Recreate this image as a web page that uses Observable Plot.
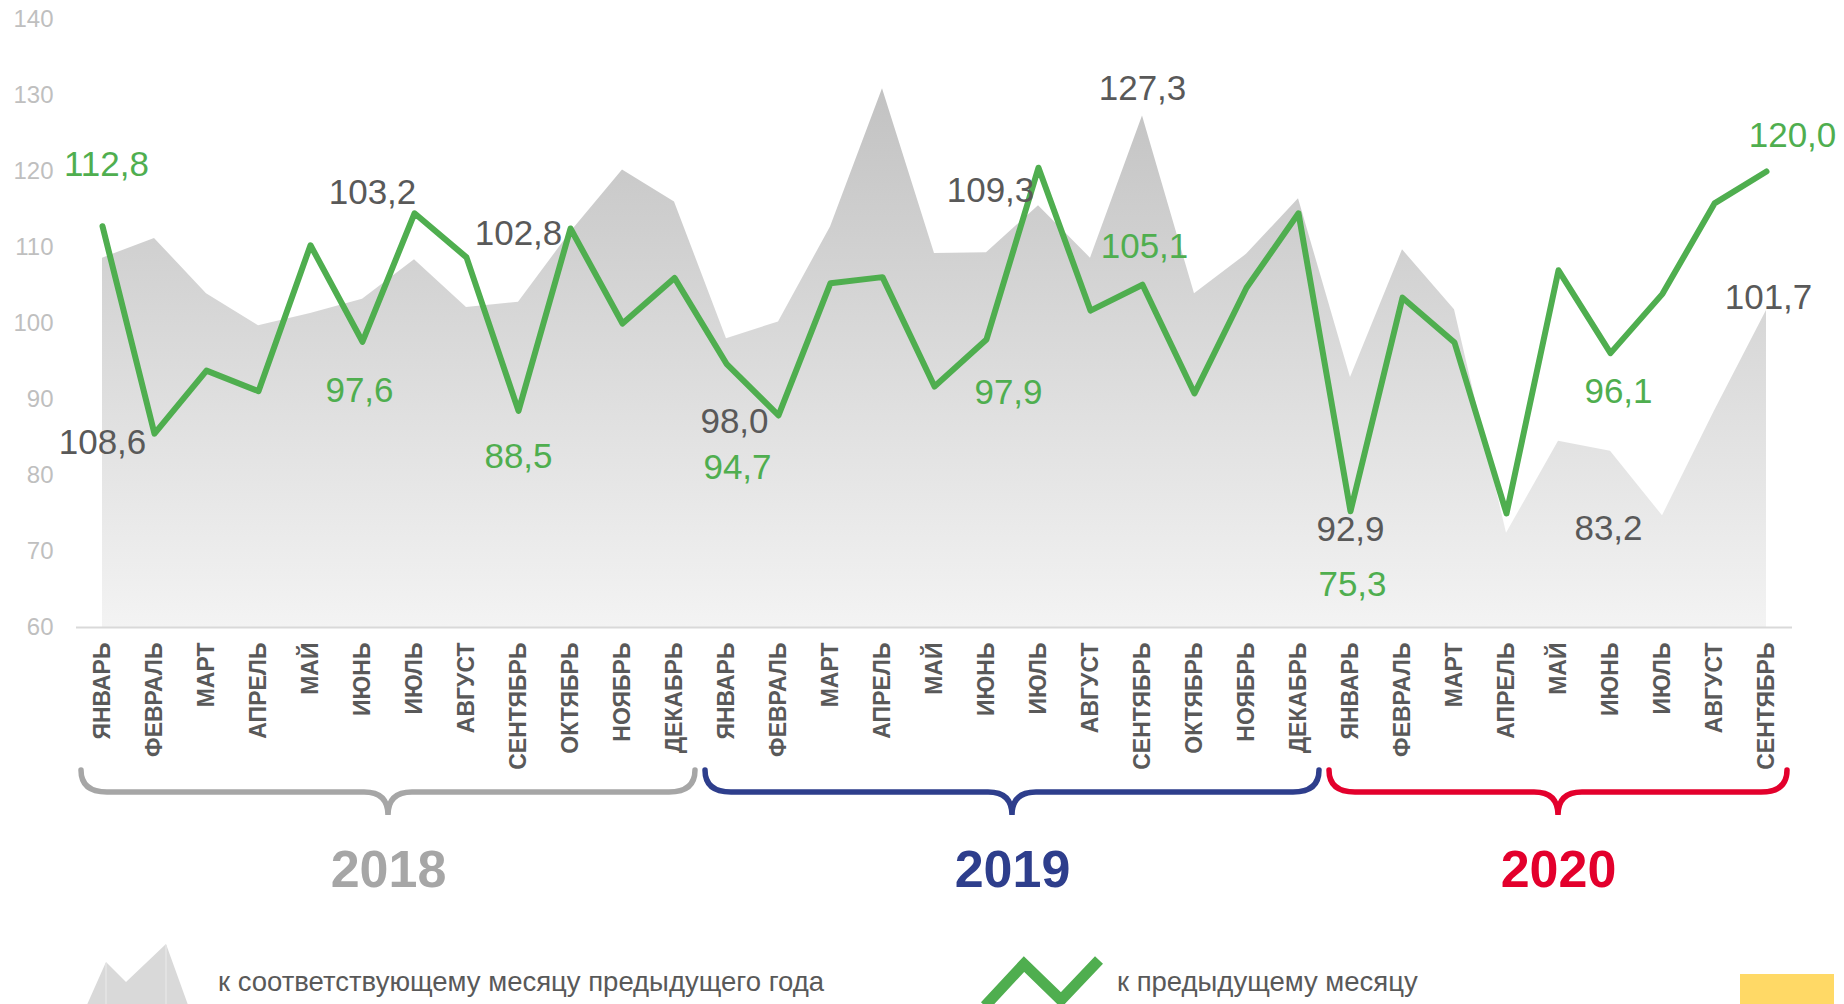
<!DOCTYPE html>
<html><head><meta charset="utf-8">
<script src="https://cdn.jsdelivr.net/npm/d3@7"></script>
<script src="https://cdn.jsdelivr.net/npm/@observablehq/plot@0.6"></script>
<style>
html,body{margin:0;padding:0;background:#fff;overflow:hidden;width:1844px;height:1004px;}
#chart svg{display:block}
#legend{position:relative;width:1844px;height:68px;overflow:hidden;font-family:"Liberation Sans",Arial,sans-serif;color:#595959;font-size:27.5px;}
#legend .t{position:absolute;white-space:nowrap;line-height:1;}
#legend svg{position:absolute;left:0;top:0;}
#pagebox{position:absolute;left:1740px;top:38px;width:94px;height:40px;background:#ffd966;}
</style></head><body>
<div id="chart"></div>
<div id="legend">
  <svg width="1844" height="68">
    <polygon points="82,80 106,26 126,46 166,8 192,80" fill="#d9d9d9"/>
    <line x1="106" y1="27" x2="106" y2="80" stroke="#e4e4e4" stroke-width="1.5"/>
    <line x1="166" y1="9" x2="166" y2="80" stroke="#e4e4e4" stroke-width="1.5"/>
    <polyline points="985,70 1024,28 1061,64 1099,24" fill="none" stroke="#4fae4f" stroke-width="11" stroke-linejoin="miter"/>
  </svg>
  <div class="t" style="left:218px;top:32px;">к соответствующему месяцу предыдущего года</div>
  <div class="t" style="left:1117px;top:32px;">к предыдущему месяцу</div>
  <div id="pagebox"></div>
</div>
<script>
// ---- data ----
const months = ["ЯНВАРЬ","ФЕВРАЛЬ","МАРТ","АПРЕЛЬ","МАЙ","ИЮНЬ","ИЮЛЬ","АВГУСТ","СЕНТЯБРЬ","ОКТЯБРЬ","НОЯБРЬ","ДЕКАБРЬ"];
const periods = [...months, ...months, ...months.slice(0, 9)];
// к соответствующему месяцу предыдущего года
const yoy = [108.6,111.2,103.9,99.7,101.3,103.2,108.4,102.1,102.8,112.0,120.2,116.0,
             98.0,100.2,112.7,130.9,109.2,109.3,115.5,108.6,127.3,103.9,109.1,116.4,
             92.9,109.7,101.8,72.4,84.5,83.2,74.7,88.5,101.7];
// к предыдущему месяцу
const mom = [112.8,85.5,93.8,91.1,110.3,97.6,114.5,108.7,88.5,112.5,100.0,106.0,
             94.7,87.9,105.3,106.1,91.7,97.9,120.5,101.7,105.1,90.8,104.7,114.5,
             75.3,103.4,97.5,75.0,107.0,96.1,103.9,115.8,120.0];
const yearNames = ["2018","2019","2020"];
const yearFirst = [0, 12, 24];
const yearLast = [11, 23, 32];
const yTicks = [60,70,80,90,100,110,120,130,140];
const labelledYoy = [0,5,8,12,17,20,24,29,32];
const labelledMom = [0,5,8,12,17,20,24,29,32];

// ---- styles / layout ----
const yearColors = ["#a6a6a6","#2e3e8c","#e3002c"];
const green = "#4fae4f";
const darkText = "#595959";
// pixel offsets of each value label from its point [dx, dy]
const yoyLabelOffset = [[0,185],[10,-106],[0,-68],[8,83],[4,-62],[0,-27],[0,152],[-2,78],[2,-13]];
const momLabelOffset = [[4,-61],[-3,49],[0,46],[11,104],[22,53],[2,-38],[2,74],[8,39],[26,-36]];

const rows = periods.map((m, i) => ({i, month: m, yoy: yoy[i], mom: mom[i]}));
const years = yearNames.map((y, k) => ({year: y, from: yearFirst[k], to: yearLast[k], mid: (yearFirst[k] + yearLast[k]) / 2, color: yearColors[k]}));
const fmt = v => v.toFixed(1).replace(".", ",");

const H = 936;
const FONT = "'Liberation Sans', Arial, Helvetica, sans-serif";

function gradientDefs(index, scales) {
  const defs = d3.create("svg:defs");
  const g = defs.append("linearGradient").attr("id", "areaGrad")
    .attr("gradientUnits", "userSpaceOnUse")
    .attr("x1", 0).attr("x2", 0)
    .attr("y1", scales.y(140)).attr("y2", scales.y(60));
  g.append("stop").attr("offset", "0%").attr("stop-color", "#bcbcbc");
  g.append("stop").attr("offset", "100%").attr("stop-color", "#f3f3f3");
  return defs.node();
}

function braces(index, scales) {
  const g = d3.create("svg:g").attr("fill", "none").attr("stroke-width", 5.5).attr("stroke-linecap", "round");
  const base = scales.y(60);
  const top = base + 143, mid = base + 165, tip = base + 188;
  const rx = 26, rt = 24;
  years.forEach(yr => {
    const x0 = scales.x(yr.from - 0.5) + 5;
    const x1 = scales.x(yr.to + 0.5) - 5;
    const xm = scales.x(yr.mid);
    const d = `M${x0},${top} Q${x0},${mid} ${x0 + rx},${mid} L${xm - rt},${mid} Q${xm},${mid} ${xm},${tip} Q${xm},${mid} ${xm + rt},${mid} L${x1 - rx},${mid} Q${x1},${mid} ${x1},${top}`;
    g.append("path").attr("d", d).attr("stroke", yr.color);
  });
  return g.node();
}

const labelMarks = [
  ...labelledYoy.map((i, k) => Plot.text([rows[i]], {
    x: "i", y: "yoy", text: d => fmt(d.yoy),
    dx: yoyLabelOffset[k][0], dy: yoyLabelOffset[k][1],
    fill: darkText, fontSize: 35, lineAnchor: "middle"
  })),
  ...labelledMom.map((i, k) => Plot.text([rows[i]], {
    x: "i", y: "mom", text: d => fmt(d.mom),
    dx: momLabelOffset[k][0], dy: momLabelOffset[k][1],
    fill: green, fontSize: 35, lineAnchor: "middle"
  }))
];

const chart = Plot.plot({
  width: 1844,
  height: H,
  marginLeft: 76,
  marginRight: 52,
  marginTop: 19,
  marginBottom: H - 627,
  style: {fontFamily: FONT, background: "white", overflow: "visible"},
  x: {type: "linear", domain: [-0.5, periods.length - 0.5], axis: null},
  y: {domain: [60, 140]},
  marks: [
    gradientDefs,
    Plot.axisY({ticks: yTicks, tickSize: 0, tickPadding: 23, fontSize: 24, fill: "#bfbfbf", label: null, tickFormat: d => String(d)}),
    Plot.areaY(rows, {x: "i", y1: 60, y2: "yoy", fill: "url(#areaGrad)", curve: "linear"}),
    Plot.ruleY([60], {stroke: "#d9d9d9", strokeWidth: 2}),
    Plot.lineY(rows, {x: "i", y: "mom", stroke: green, strokeWidth: 6, strokeLinejoin: "round", strokeLinecap: "round"}),
    ...labelMarks,
    Plot.text(rows, {x: "i", text: "month", frameAnchor: "bottom", lineAnchor: "middle", rotate: -90, textAnchor: "end", dy: 15,
      fontSize: 23, fontWeight: "bold", fill: darkText}),
    braces,
    ...years.map(yr => Plot.text([yr], {x: "mid", text: "year", frameAnchor: "bottom", lineAnchor: "middle", dy: 243,
      fontSize: 52, fontWeight: "bold", fill: yr.color}))
  ]
});
document.getElementById("chart").appendChild(chart);
</script>
</body></html>
